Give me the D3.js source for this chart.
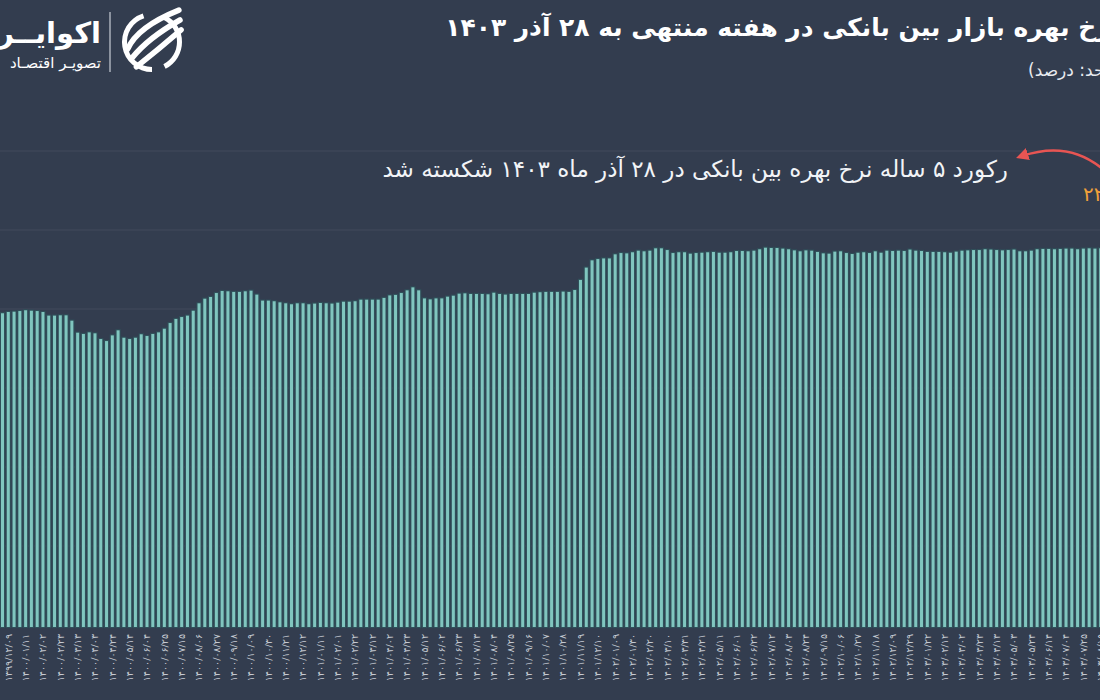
<!DOCTYPE html>
<html>
<head>
<meta charset="utf-8">
<script src="https://cdn.jsdelivr.net/npm/d3@7"></script>
<style>
  html, body { margin: 0; padding: 0; background: #333d4f; }
  svg { display: block; }
  text { font-family: "DejaVu Sans", sans-serif; }
</style>
</head>
<body>
<svg id="chart" width="1100" height="700"></svg>
<script>
// ---- data ----
const titleText = "نرخ بهره بازار بین بانکی در هفته منتهی به ۲۸ آذر ۱۴۰۳";
const subtitleText = "(واحد: درصد)";
const noteText = "رکورد ۵ ساله نرخ بهره بین بانکی در ۲۸ آذر ماه ۱۴۰۳ شکسته شد";
const recordLabel = "۲۲٫۸";

const values = [
  19.73, 19.81, 19.83, 19.87, 19.92, 19.89, 19.87, 19.81, 19.58, 19.58,
  19.60, 19.60, 19.26, 18.50, 18.42, 18.52, 18.46, 18.10, 17.97, 18.33,
  18.65, 18.18, 18.10, 18.18, 18.40, 18.29, 18.42, 18.52, 18.75, 19.11,
  19.37, 19.49, 19.58, 19.89, 20.36, 20.65, 20.76, 21.01, 21.14, 21.12,
  21.08, 21.08, 21.12, 21.16, 20.91, 20.53, 20.53, 20.49, 20.42, 20.36,
  20.30, 20.36, 20.36, 20.30, 20.34, 20.38, 20.36, 20.34, 20.40, 20.46,
  20.46, 20.49, 20.59, 20.59,
  20.59, 20.59, 20.70, 20.86, 20.89, 21.01, 21.18, 21.37, 21.18, 20.67,
  20.61, 20.67, 20.67, 20.78, 20.84, 20.97, 20.99, 20.95, 20.95, 20.95,
  20.93, 21.03, 20.95, 20.91, 20.95, 20.95, 20.95, 20.95, 21.03, 21.06,
  21.08, 21.08, 21.08, 21.10, 21.08, 21.20, 21.84, 22.62, 23.08, 23.16,
  23.20, 23.20, 23.46, 23.54, 23.52, 23.59, 23.69, 23.65, 23.69, 23.84,
  23.84, 23.73, 23.54, 23.59, 23.59, 23.50, 23.54, 23.56, 23.59, 23.61,
  23.56, 23.56, 23.59, 23.67,
  23.67, 23.65, 23.69, 23.78, 23.88, 23.86, 23.86, 23.82, 23.78, 23.71,
  23.65, 23.71, 23.69, 23.61, 23.52, 23.50, 23.63, 23.65, 23.54, 23.48,
  23.56, 23.59, 23.54, 23.65, 23.56, 23.69, 23.67, 23.69, 23.67, 23.76,
  23.69, 23.67, 23.61, 23.61, 23.61, 23.59, 23.56, 23.63, 23.69, 23.71,
  23.73, 23.73, 23.78, 23.76, 23.73, 23.71, 23.73, 23.76, 23.65, 23.65,
  23.69, 23.78, 23.80, 23.80, 23.78, 23.80, 23.82, 23.82, 23.78, 23.82,
  23.84, 23.82, 23.84
];

// one label every third week, starting with the second bar
const tickLabels = [
  "۱۳۹۹/۱۲/۰۹", "۱۴۰۰/۰۱/۱۱", "۱۴۰۰/۰۲/۰۲", "۱۴۰۰/۰۲/۲۳", "۱۴۰۰/۰۳/۱۳",
  "۱۴۰۰/۰۴/۰۳", "۱۴۰۰/۰۴/۲۴", "۱۴۰۰/۰۵/۱۴", "۱۴۰۰/۰۶/۰۴", "۱۴۰۰/۰۶/۲۵",
  "۱۴۰۰/۰۷/۱۵", "۱۴۰۰/۰۸/۰۶", "۱۴۰۰/۰۸/۲۷", "۱۴۰۰/۰۹/۱۸", "۱۴۰۰/۱۰/۰۹",
  "۱۴۰۰/۱۰/۳۰", "۱۴۰۰/۱۱/۲۱", "۱۴۰۰/۱۲/۱۲", "۱۴۰۱/۰۱/۱۱", "۱۴۰۱/۰۲/۰۱",
  "۱۴۰۱/۰۲/۲۲", "۱۴۰۱/۰۳/۱۲", "۱۴۰۱/۰۴/۰۲", "۱۴۰۱/۰۴/۲۳", "۱۴۰۱/۰۵/۱۲",
  "۱۴۰۱/۰۶/۰۲", "۱۴۰۱/۰۶/۲۳", "۱۴۰۱/۰۷/۱۳", "۱۴۰۱/۰۸/۰۴", "۱۴۰۱/۰۸/۲۵",
  "۱۴۰۱/۰۹/۱۶", "۱۴۰۱/۱۰/۰۷", "۱۴۰۱/۱۰/۲۸", "۱۴۰۱/۱۱/۱۹", "۱۴۰۱/۱۲/۱۰",
  "۱۴۰۲/۰۱/۰۹", "۱۴۰۲/۰۱/۳۰", "۱۴۰۲/۰۲/۲۰", "۱۴۰۲/۰۳/۱۰", "۱۴۰۲/۰۳/۳۱",
  "۱۴۰۲/۰۴/۲۱", "۱۴۰۲/۰۵/۱۱", "۱۴۰۲/۰۶/۰۱", "۱۴۰۲/۰۶/۲۲", "۱۴۰۲/۰۷/۱۲",
  "۱۴۰۲/۰۸/۰۳", "۱۴۰۲/۰۸/۲۴", "۱۴۰۲/۰۹/۱۵", "۱۴۰۲/۱۰/۰۶", "۱۴۰۲/۱۰/۲۷",
  "۱۴۰۲/۱۱/۱۸", "۱۴۰۲/۱۲/۰۹", "۱۴۰۲/۱۲/۲۹", "۱۴۰۳/۰۱/۲۲", "۱۴۰۳/۰۲/۱۲",
  "۱۴۰۳/۰۳/۰۲", "۱۴۰۳/۰۳/۲۳", "۱۴۰۳/۰۴/۱۳", "۱۴۰۳/۰۵/۰۳", "۱۴۰۳/۰۵/۲۴",
  "۱۴۰۳/۰۶/۱۴", "۱۴۰۳/۰۷/۰۴", "۱۴۰۳/۰۷/۲۵", "۱۴۰۳/۰۸/۱۵"
];
const gridValues = [0, 5, 10, 15, 20, 25, 30];

// ---- drawing ----
const svg = d3.select("#chart");
const W = 1100, H = 700;
const baseY = 625, topY = 151;

const x = d3.scaleBand()
  .domain(d3.range(values.length))
  .range([-0.39, -0.39 + values.length * 5.78])
  .paddingInner(0.48)
  .paddingOuter(0.24);

const y = d3.scaleLinear().domain([0, 30]).range([baseY, topY]);

// scale a text's font size so that it spans the wanted width
function fitWidth(sel, target) {
  const node = sel.node();
  const size = parseFloat(sel.style("font-size"));
  const w = node.getComputedTextLength();
  if (w > 0) sel.style("font-size", (size * target / w).toFixed(2) + "px");
  return sel;
}

// gridlines
svg.append("g")
  .selectAll("line")
  .data(gridValues)
  .join("line")
  .attr("x1", 0).attr("x2", W)
  .attr("y1", d => y(d)).attr("y2", d => y(d))
  .attr("stroke", "#424b5d")
  .attr("stroke-width", 1);

// bars
svg.append("g")
  .selectAll("rect")
  .data(values)
  .join("rect")
  .attr("x", (d, i) => x(i))
  .attr("width", x.bandwidth())
  .attr("y", d => y(d))
  .attr("height", d => y(0) - y(d) + 2)
  .attr("fill", "#80c6bf")
  .attr("stroke", "#30505a")
  .attr("stroke-width", 2.2)
  .style("paint-order", "stroke");

// x axis (rotated date labels)
const tickIdx = tickLabels.map((t, j) => 1 + 3 * j);
const xAxis = d3.axisBottom(x)
  .tickValues(tickIdx)
  .tickFormat(i => tickLabels[(i - 1) / 3])
  .tickSize(0);
const gx = svg.append("g")
  .attr("transform", `translate(0,${baseY})`)
  .call(xAxis);
gx.select(".domain").remove();
gx.selectAll("text")
  .attr("transform", "rotate(-90)")
  .attr("x", -9)
  .attr("y", 0)
  .attr("dy", "0.35em")
  .attr("direction", "ltr")
  .style("text-anchor", "end")
  .style("font-family", "'DejaVu Sans', sans-serif")
  .style("font-size", "9.5px")
  .attr("fill", "#c6cbd3");

// title
fitWidth(svg.append("text")
  .attr("x", 1121).attr("y", 36)
  .attr("direction", "rtl")
  .attr("text-anchor", "start")
  .attr("fill", "#ffffff")
  .style("font-size", "24px")
  .style("font-weight", "bold")
  .text(titleText), 676);

// subtitle
svg.append("text")
  .attr("x", 1124).attr("y", 76)
  .attr("direction", "rtl")
  .attr("text-anchor", "start")
  .attr("fill", "#e8ebf0")
  .style("font-size", "17px")
  .text(subtitleText);

// annotation
fitWidth(svg.append("text")
  .attr("x", 1008).attr("y", 177)
  .attr("direction", "rtl")
  .attr("text-anchor", "start")
  .attr("fill", "#f2f4f7")
  .style("font-size", "19px")
  .text(noteText), 626);

// red arrow
svg.append("defs").append("marker")
  .attr("id", "ah")
  .attr("viewBox", "0 0 10 10")
  .attr("refX", 5).attr("refY", 5)
  .attr("markerWidth", 5).attr("markerHeight", 5)
  .attr("orient", "auto-start-reverse")
  .append("path")
  .attr("d", "M0,0 L10,5 L0,10 Z")
  .attr("fill", "#e85553");
svg.append("path")
  .attr("d", "M1112,178 Q1075,138 1022,156")
  .attr("fill", "none")
  .attr("stroke", "#e85553")
  .attr("stroke-width", 2.5)
  .attr("marker-end", "url(#ah)");

// orange record label
svg.append("text")
  .attr("x", 1083).attr("y", 201)
  .attr("direction", "ltr")
  .attr("text-anchor", "start")
  .attr("fill", "#f0a13a")
  .style("font-size", "20px")
  .text(recordLabel);

// ---- logo ----
const logo = svg.append("g");
logo.append("text")
  .attr("x", 101).attr("y", 43)
  .attr("direction", "rtl")
  .attr("text-anchor", "start")
  .attr("fill", "#ffffff")
  .style("font-size", "29px")
  .style("font-weight", "bold")
  .text("اکوایــران");
logo.append("text")
  .attr("x", 101).attr("y", 68)
  .attr("direction", "rtl")
  .attr("text-anchor", "start")
  .attr("fill", "#ffffff")
  .style("font-size", "15px")
  .text("تصویـر اقتصـاد");
logo.append("line")
  .attr("x1", 110).attr("x2", 110)
  .attr("y1", 12).attr("y2", 72)
  .attr("stroke", "#c9ced6").attr("stroke-width", 1.2);
// emblem
const em = logo.append("g").attr("transform", "translate(152,42)");
em.append("path")
  .attr("d", d3.arc()({innerRadius: 25, outerRadius: 30, startAngle: Math.PI * 1.0, endAngle: Math.PI * 1.9}))
  .attr("fill", "#ffffff");
em.append("path")
  .attr("d", d3.arc()({innerRadius: 25, outerRadius: 30, startAngle: 0.15 * Math.PI, endAngle: 0.85 * Math.PI}))
  .attr("fill", "#ffffff");
[-11, 0, 11].forEach(o => {
  em.append("path")
    .attr("d", `M${-20 + o * 0.4},${16 + o * 0.8} Q${-4 + o},${-4 + o} ${28 + o * 0.1},${-22 + o * 0.9}`)
    .attr("fill", "none")
    .attr("stroke", "#ffffff")
    .attr("stroke-width", 5.5)
    .attr("stroke-linecap", "round");
});
</script>
</body>
</html>
